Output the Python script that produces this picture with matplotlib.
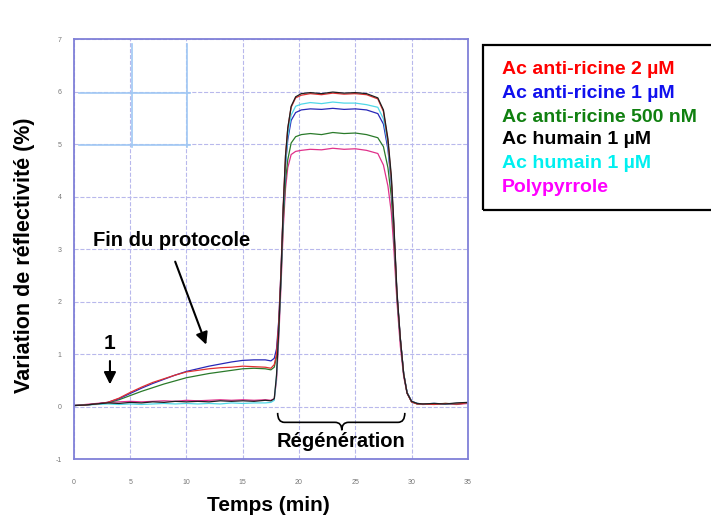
import matplotlib.pyplot as plt
from matplotlib.path import Path
from matplotlib.patches import PathPatch, Rectangle

plt.rcParams['font.family'] = ['Liberation Sans', 'DejaVu Sans']
plt.rcParams['axes.unicode_minus'] = False

# time (min)
t = [0, 1, 2, 3, 4, 5, 6, 7, 8, 9, 10, 11, 12, 13, 14, 15, 16, 17,
     17.5, 17.8, 18.0, 18.2, 18.4, 18.6, 18.8, 19.0, 19.3, 19.7, 20.2,
     21, 22, 23, 24, 25, 26, 27,
     27.5, 27.9, 28.2, 28.4, 28.7, 29.0, 29.3, 29.6, 30.0, 30.5,
     31, 32, 33, 34, 35]

anti_2uM = [0.02, 0.03, 0.05, 0.08, 0.16, 0.27, 0.37, 0.46, 0.53, 0.60, 0.66, 0.69, 0.72, 0.74, 0.75, 0.77, 0.76, 0.75,
            0.73, 0.80, 1.0, 1.6, 2.6, 3.85, 4.78, 5.3, 5.7, 5.88, 5.93,
            5.96, 5.94, 5.97, 5.95, 5.96, 5.94, 5.86,
            5.62, 5.05, 4.35, 3.55, 2.15, 1.30, 0.62, 0.26, 0.09, 0.05,
            0.05, 0.04, 0.06, 0.05, 0.07]
anti_1uM = [0.02, 0.03, 0.05, 0.08, 0.15, 0.25, 0.35, 0.44, 0.52, 0.60, 0.67, 0.72, 0.77, 0.81, 0.85, 0.88, 0.89, 0.89,
            0.87, 0.92, 1.1, 1.65, 2.6, 3.75, 4.6, 5.08, 5.45, 5.6, 5.65,
            5.67, 5.66, 5.68, 5.66, 5.67, 5.65, 5.58,
            5.38, 4.9, 4.25, 3.5, 2.15, 1.30, 0.63, 0.27, 0.10, 0.06,
            0.05, 0.06, 0.05, 0.06, 0.07]
anti_500nM = [0.02, 0.03, 0.05, 0.07, 0.13, 0.21, 0.29, 0.36, 0.43, 0.49, 0.55, 0.59, 0.63, 0.66, 0.69, 0.72, 0.73, 0.72,
              0.70, 0.75, 0.95, 1.5, 2.45, 3.55, 4.3, 4.7, 5.02, 5.14, 5.18,
              5.20, 5.18, 5.22, 5.20, 5.21, 5.18, 5.12,
              4.95, 4.55, 4.0, 3.35, 2.1, 1.28, 0.62, 0.26, 0.09, 0.05,
              0.05, 0.05, 0.06, 0.05, 0.07]
humain_a = [0.02, 0.03, 0.05, 0.07, 0.06, 0.08, 0.07, 0.09, 0.08, 0.10, 0.09, 0.10, 0.09, 0.11, 0.10, 0.11, 0.10, 0.12,
            0.11, 0.15, 0.6, 1.45, 2.5, 3.8, 4.78, 5.3, 5.72, 5.9, 5.96,
            5.98, 5.96, 5.99, 5.97, 5.98, 5.96, 5.88,
            5.65, 5.1, 4.4, 3.6, 2.2, 1.30, 0.62, 0.26, 0.10, 0.06,
            0.05, 0.06, 0.05, 0.07, 0.08]
humain_b = [0.02, 0.03, 0.04, 0.05, 0.04, 0.05, 0.04, 0.05, 0.06, 0.05, 0.06, 0.05, 0.06, 0.05, 0.07, 0.06, 0.07, 0.07,
            0.08, 0.12, 0.58, 1.42, 2.45, 3.75, 4.65, 5.15, 5.55, 5.72, 5.76,
            5.79, 5.77, 5.80, 5.78, 5.78, 5.75, 5.70,
            5.48, 4.98, 4.3, 3.55, 2.15, 1.30, 0.63, 0.27, 0.10, 0.06,
            0.05, 0.06, 0.05, 0.06, 0.07]
polypyrrole = [0.02, 0.04, 0.06, 0.08, 0.09, 0.10, 0.09, 0.10, 0.11, 0.10, 0.12, 0.11, 0.12, 0.13, 0.12, 0.13, 0.12, 0.13,
               0.12, 0.15, 0.5, 1.3, 2.3, 3.4, 4.15, 4.55, 4.8, 4.86, 4.88,
               4.90, 4.89, 4.92, 4.90, 4.91, 4.88, 4.82,
               4.6, 4.2, 3.7, 3.1, 2.0, 1.15, 0.57, 0.25, 0.09, 0.05,
               0.04, 0.05, 0.05, 0.04, 0.06]

labels = ['Ac anti-ricine 2 µM', 'Ac anti-ricine 1 µM', 'Ac anti-ricine 500 nM',
          'Ac humain 1 µM', 'Ac humain 1 µM', 'Polypyrrole']
label_colors = ['#ff0000', '#1010ee', '#108010', '#000000', '#00f0f0', '#ff00ff']

fig = plt.figure(figsize=(7.11, 5.17), dpi=100)
ax = fig.add_axes([0.104, 0.112, 0.554, 0.8125])

# curves, back to front
ax.plot(t, polypyrrole, color='#e0308a', lw=0.9)
ax.plot(t, anti_500nM, color='#2a7a2a', lw=0.9)
ax.plot(t, anti_1uM, color='#2828b8', lw=0.9)
ax.plot(t, humain_b, color='#50d8e8', lw=0.9)
ax.plot(t, anti_2uM, color='#e03030', lw=0.9)
ax.plot(t, humain_a, color='#202020', lw=0.9)

ax.set_xlim(0, 35)
ax.set_ylim(-1, 7)
ax.set_xticks(range(0, 36, 5))
ax.set_yticks(range(-1, 8))
ax.grid(True, color='#b8b8ec', linestyle='--', linewidth=0.8)
ax.set_axisbelow(True)
for s in ax.spines.values():
    s.set_color('#8080d8')
    s.set_linewidth(1.3)
ax.tick_params(length=0, labelsize=5, colors='#777777')
ax.tick_params(axis='x', pad=14)
ax.tick_params(axis='y', pad=9)

# stray light-blue box top left
box_c = '#a0c8f4'
ax.plot([0.45, 10.3], [5.97, 5.97], color=box_c, lw=1.2)
ax.plot([0.45, 10.3], [4.98, 4.98], color=box_c, lw=1.2)
ax.plot([5.15, 5.15], [4.95, 6.9], color=box_c, lw=1.2)
ax.plot([10.05, 10.05], [4.95, 6.9], color=box_c, lw=1.2)

# annotations
ax.text(8.64, 3.17, 'Fin du protocole', fontsize=14.5, fontweight='bold', ha='center', va='center')
ax.annotate('', xy=(11.84, 1.13), xytext=(8.91, 2.81),
            arrowprops=dict(arrowstyle='-|>', color='black', lw=1.5, mutation_scale=18))
ax.text(3.12, 1.21, '1', fontsize=15, fontweight='bold', ha='center', va='center')
ax.annotate('', xy=(3.2, 0.37), xytext=(3.2, 0.92),
            arrowprops=dict(arrowstyle='-|>', color='black', lw=1.5, mutation_scale=18))

# brace under the regeneration step
verts = [(18.1, -0.12), (18.1, -0.3), (18.7, -0.3),
         (23.2, -0.3), (23.8, -0.3), (23.8, -0.45),
         (23.8, -0.3), (24.4, -0.3),
         (28.8, -0.3), (29.4, -0.3), (29.4, -0.12)]
codes = [Path.MOVETO, Path.CURVE3, Path.CURVE3,
         Path.LINETO, Path.CURVE3, Path.CURVE3,
         Path.CURVE3, Path.CURVE3,
         Path.LINETO, Path.CURVE3, Path.CURVE3]
ax.add_patch(PathPatch(Path(verts, codes), fill=False, lw=1.2, color='black'))
ax.text(23.7, -0.66, 'Régénération', fontsize=14.5, fontweight='bold', ha='center', va='center')

# axis titles
fig.text(0.035, 0.507, 'Variation de réflectivité (%)', rotation=90, fontsize=15.5,
         fontweight='bold', ha='center', va='center')
fig.text(0.378, 0.023, 'Temps (min)', fontsize=15, fontweight='bold', ha='center', va='center')

# legend box
fig.patches.append(Rectangle((0.679, 0.594), 0.33, 0.319, transform=fig.transFigure,
                             fill=False, edgecolor='black', lw=1.6))
ys = [70, 93, 117, 140, 164, 188]
for lab, c, y in zip(labels, label_colors, ys):
    fig.text(0.706, 1 - y / 517, lab, color=c, fontsize=14, fontweight='bold', va='center', ha='left')

fig.savefig('out.png', dpi=100)
